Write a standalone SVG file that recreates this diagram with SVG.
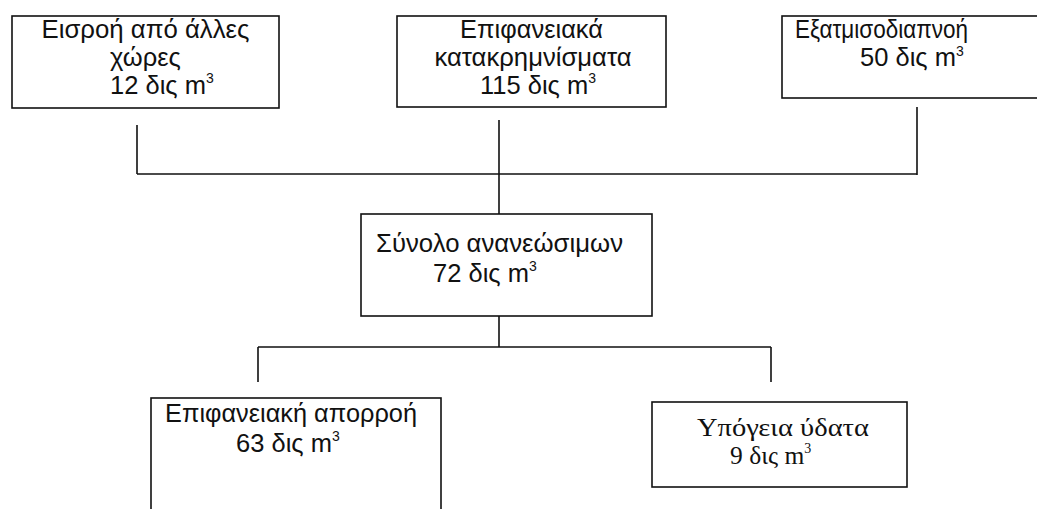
<svg xmlns="http://www.w3.org/2000/svg" width="1037" height="509" viewBox="0 0 1037 509">
<style>
.box{fill:#fff;stroke:#111;stroke-width:1.6}
.t{font-family:"Liberation Sans",Arial,sans-serif;font-size:25.5px;fill:#111}
.tc{text-anchor:middle}
.s{font-family:"Liberation Serif","Times New Roman",serif;font-size:25.5px;fill:#111}
.sup{font-size:14px}
.ln{stroke:#111;stroke-width:1.6;fill:none}
</style>
<rect width="1037" height="509" fill="#fff"/>
<g id="connectors">
<path class="ln" d="M137,125 V174 M499,120 V214 M917,107 V175 M137,174 H917"/>
<path class="ln" d="M499,316 V347 M258,347 H771 M258,347 V382 M771,347 V382"/>
</g>
<g id="node-inflow">
<rect class="box" x="12" y="16" width="267" height="92"/>
<text class="t tc" x="145.5" y="38" textLength="208" lengthAdjust="spacingAndGlyphs">Εισροή από άλλες</text>
<text class="t tc" x="145.5" y="66">χώρες</text>
<text class="t" x="110" y="94">12 δις m<tspan class="sup" dy="-11">3</tspan></text>
</g>
<g id="node-precip">
<rect class="box" x="397" y="16" width="269" height="91"/>
<text class="t tc" x="531.5" y="38" textLength="143" lengthAdjust="spacingAndGlyphs">Επιφανειακά</text>
<text class="t tc" x="533" y="66" textLength="197" lengthAdjust="spacingAndGlyphs">κατακρημνίσματα</text>
<text class="t" x="480" y="94">115 δις m<tspan class="sup" dy="-11">3</tspan></text>
</g>
<g id="node-evap">
<rect class="box" x="782" y="16" width="270" height="82"/>
<text class="t" x="795" y="38" textLength="173" lengthAdjust="spacingAndGlyphs">Εξατμισοδιαπνοή</text>
<text class="t" x="860" y="66">50 δις m<tspan class="sup" dy="-10">3</tspan></text>
</g>
<g id="node-total">
<rect class="box" x="361" y="214" width="291" height="102"/>
<text class="t" x="376" y="252" textLength="247" lengthAdjust="spacingAndGlyphs">Σύνολο ανανεώσιμων</text>
<text class="t" x="433" y="282">72 δις m<tspan class="sup" dy="-11">3</tspan></text>
</g>
<g id="node-runoff">
<rect class="box" x="151" y="398" width="290" height="130"/>
<text class="t" x="165" y="422" textLength="252" lengthAdjust="spacingAndGlyphs">Επιφανειακή απορροή</text>
<text class="t" x="236" y="452">63 δις m<tspan class="sup" dy="-11">3</tspan></text>
</g>
<g id="node-ground">
<rect class="box" x="652" y="402" width="255" height="85"/>
<text class="s" x="697" y="436" textLength="172" lengthAdjust="spacingAndGlyphs">Υπόγεια ύδατα</text>
<text class="s" x="730" y="464">9 δις m<tspan class="sup" dy="-11">3</tspan></text>
</g>
</svg>
